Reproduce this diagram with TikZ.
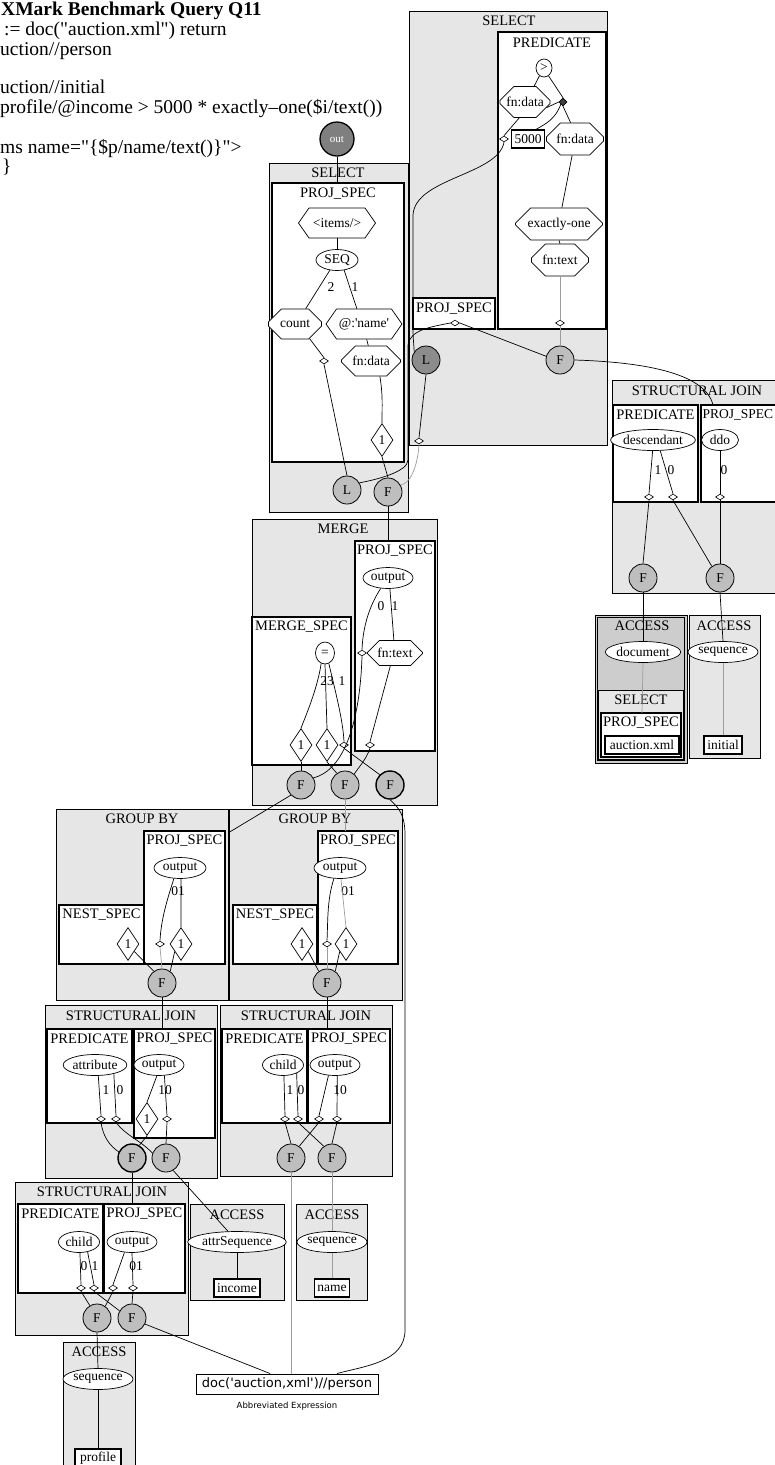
\documentclass[tikz,border=0pt]{standalone}
\usepackage{fontspec}
\setmainfont{Liberation Serif}
\newfontfamily\dvsans{DejaVu Sans}
\usetikzlibrary{shapes.geometric,shapes.misc,shapes.symbols}
\definecolor{clg}{HTML}{E6E6E6}
\definecolor{acg}{HTML}{CDCDCD}
\definecolor{fcol}{HTML}{BEBEBE}
\definecolor{lcol}{HTML}{8C8C8C}
\definecolor{ocol}{HTML}{7F7F7F}
\definecolor{edg}{HTML}{9C9C9C}
\tikzset{
 cl/.style={draw, fill=clg, line width=0.8pt},
 sp/.style={draw, fill=white, line width=1.3pt},
 tl/.style={inner sep=0pt, font=\fontsize{14.5}{16}\selectfont},
 nf/.style={font=\fontsize{13.5}{15}\selectfont},
 ell/.style={ellipse, draw, fill=white, line width=0.7pt, inner sep=0pt, minimum height=21pt, nf},
 oct/.style={chamfered rectangle, draw, fill=white, line width=0.7pt, inner sep=0pt, chamfered rectangle xsep=8pt, chamfered rectangle ysep=9pt, minimum height=30pt, nf},
 hexa/.style={signal, signal to=east and west, signal pointer angle=110, draw, fill=white, line width=0.7pt, inner sep=0pt, minimum height=30pt, nf},
 dia/.style={diamond, draw, fill=white, line width=0.7pt, inner sep=0pt, minimum width=22pt, minimum height=33pt, nf},
 port/.style={diamond, draw, fill=white, line width=0.6pt, inner sep=0pt, minimum width=9pt, minimum height=6pt},
 fc/.style={circle, draw, fill=fcol, line width=0.8pt, minimum size=28pt, inner sep=0pt, nf},
 lc/.style={fc, fill=lcol},
 bx/.style={rectangle, draw, fill=white, line width=1.2pt, inner sep=1.5pt, minimum height=18pt, nf},
 el/.style={inner sep=0pt, font=\fontsize{13.5}{15}\selectfont},
 ed/.style={line width=0.7pt},
 ge/.style={line width=0.7pt, draw=edg},
 hd/.style={anchor=base west, inner sep=0pt, font=\fontsize{19.5}{20}\selectfont},
}
\begin{document}
\begin{tikzpicture}[x=1pt,y=-1pt]
\useasboundingbox (0,0) rectangle (775,1465);
\fill[white] (0,0) rectangle (775,1465);
% ---------- heading text ----------
\node[hd, font=\fontsize{19.5}{20}\selectfont\bfseries] (t1) at (1,15) {XMark Benchmark Query Q11};
\node[hd] (t2) at (4,35) {:= doc(\textquotedbl auction.xml\textquotedbl) return};
\node[hd] (t3) at (0,55) {uction//person};
\node[hd] (t4) at (0,93) {uction//initial};
\node[hd] (t5) at (0,113) {profile/@income > 5000 * exactly--one(\$i/text())};
\node[hd] (t6) at (0,153) {ms name=\textquotedbl\{\$p/name/text()\}\textquotedbl>};
\node[hd] (t7) at (2,172) {\}};
% ---------- clusters ----------
% left SELECT
\draw[cl] (269,163) rectangle (408,512);
\node[tl] (selA) at (338,173) {SELECT};
\draw[sp] (272,183) rectangle (404,462);
\node[tl] (psA) at (338,194) {PROJ\_SPEC};
% right SELECT
\draw[cl] (409,11) rectangle (607,445);
\node[tl] (selB) at (509,21) {SELECT};
\draw[sp] (498,32) rectangle (606,329);
\node[tl] (predB) at (552,43) {PREDICATE};
\draw[sp] (413,298) rectangle (495,329);
\node[tl] (psB) at (454,309) {PROJ\_SPEC};
% right STRUCTURAL JOIN
\draw[cl] (612,380) rectangle (782,593);
\node[tl] (sjR) at (697,391) {STRUCTURAL JOIN};
\draw[sp] (613,405) rectangle (698,502);
\node[tl] (predR) at (655.5,415) {PREDICATE};
\draw[sp] (701,405) rectangle (790,502);
\node[tl, anchor=west, font=\fontsize{13.5}{15}\selectfont] (psR) at (702.5,415) {PROJ\_SPEC};
% ACCESS document
\draw[fill=acg, line width=0.8pt] (595,615) rectangle (687,763);
\draw[line width=0.8pt] (597.5,617.5) rectangle (684.5,760.5);
\node[tl] (acc1) at (642,626) {ACCESS};
\draw[cl] (598,690) rectangle (683,759);
\node[tl] (sel3) at (641,700) {SELECT};
\draw[sp] (601,713) rectangle (681,757);
\node[tl] (ps3) at (641,723) {PROJ\_SPEC};
% ACCESS sequence (initial)
\draw[cl] (689,615) rectangle (760,758);
\node[tl] (acc2) at (724,626) {ACCESS};
% MERGE
\draw[cl] (252,519) rectangle (437,805);
\node[tl] (mrg) at (343,529) {MERGE};
\draw[sp] (355,541) rectangle (435,751);
\node[tl] (psM) at (395,551) {PROJ\_SPEC};
\draw[sp] (252,617) rectangle (351,765);
\node[tl] (msM) at (301.5,627) {MERGE\_SPEC};
% GROUP BY left
\draw[cl] (56,809) rectangle (228,1000);
\node[tl] (gb1) at (142,819) {GROUP BY};
\draw[sp] (144,831) rectangle (225,964);
\node[tl] (psG1) at (184.5,841) {PROJ\_SPEC};
\draw[sp] (59,905) rectangle (144,964);
\node[tl] (nsG1) at (101.5,915) {NEST\_SPEC};
% GROUP BY right
\draw[cl] (229,809) rectangle (402,1000);
\node[tl] (gb2) at (315,819) {GROUP BY};
\draw[sp] (318,831) rectangle (398,964);
\node[tl] (psG2) at (358,841) {PROJ\_SPEC};
\draw[sp] (233,905) rectangle (317,964);
\node[tl] (nsG2) at (275,915) {NEST\_SPEC};
% STRUCTURAL JOIN middle left
\draw[cl] (45,1005) rectangle (217,1178);
\node[tl] (sj1) at (131,1016) {STRUCTURAL JOIN};
\draw[sp] (47,1029) rectangle (132,1123);
\node[tl] (pr1) at (89.5,1039) {PREDICATE};
\draw[sp] (134,1029) rectangle (215,1138);
\node[tl] (ps1) at (174.5,1039) {PROJ\_SPEC};
% STRUCTURAL JOIN middle right
\draw[cl] (220,1005) rectangle (392,1176);
\node[tl] (sj2) at (306,1016) {STRUCTURAL JOIN};
\draw[sp] (222,1029) rectangle (307,1123);
\node[tl] (pr2) at (264.5,1039) {PREDICATE};
\draw[sp] (308,1029) rectangle (390,1123);
\node[tl] (ps2) at (349,1039) {PROJ\_SPEC};
% STRUCTURAL JOIN lower
\draw[cl] (15,1182) rectangle (188,1335);
\node[tl] (sj3) at (102,1192) {STRUCTURAL JOIN};
\draw[sp] (18,1204) rectangle (103,1293);
\node[tl] (pr3) at (60.5,1214) {PREDICATE};
\draw[sp] (104,1204) rectangle (185,1293);
\node[tl] (ps3b) at (144.5,1214) {PROJ\_SPEC};
% ACCESS attrSequence
\draw[cl] (190,1204) rectangle (284,1300);
\node[tl] (acc3) at (237,1215) {ACCESS};
% ACCESS name
\draw[cl] (296,1204) rectangle (367,1300);
\node[tl] (acc4) at (332,1215) {ACCESS};
% ACCESS profile
\draw[cl] (63,1342) rectangle (135,1480);
\node[tl] (acc5) at (99,1352) {ACCESS};
% ---------- nodes ----------
\node[circle, draw, fill=ocol, line width=1.3pt, minimum size=34pt, inner sep=0pt, text=white, font=\fontsize{11}{12}\selectfont] (out) at (337,139) {out};
\coordinate (psAtop) at (337,183);
% left SELECT content
\node[hexa, minimum width=77pt] (items) at (337,223) {<items/>};
\node[ell, minimum width=42pt] (seq) at (337,260) {SEQ};
\node[oct, minimum width=53pt] (count) at (295,324) {count};
\node[hexa, minimum width=76pt] (name) at (364,324) {@:\textquotesingle name\textquotesingle};
\node[oct, minimum width=59pt] (fnd1) at (371,361) {fn:data};
\node[dia] (d1) at (382,440) {1};
\node[port] (p1) at (324,361) {};
\node[fc] (L1) at (347,490) {L};
\node[fc] (F1) at (388,492) {F};
\node[el] (la1) at (331,287) {2};
\node[el] (la2) at (355,287) {1};
% right SELECT content
\node[ell, minimum width=16pt, minimum height=18pt] (gt) at (544,68) {>};
\node[oct, minimum width=50pt, minimum height=31pt] (fdl) at (525,102) {fn:data};
\node[port, fill=black!75, minimum width=8pt, minimum height=8pt] (dot) at (563,102) {};
\node[bx, minimum width=33pt] (k5000) at (528,139) {5000};
\node[port] (p5) at (504,139) {};
\node[oct, minimum width=57pt, minimum height=32pt] (fdr) at (575,139) {fn:data};
\node[oct, minimum width=87pt, minimum height=32pt] (exo) at (559,224) {exactly-one};
\node[oct, minimum width=57pt, minimum height=32pt] (fnt) at (560,260) {fn:text};
\node[port] (p6) at (560,323) {};
\node[port] (p7) at (455,323) {};
\node[fc] (F2) at (560,360) {F};
\node[lc] (L2) at (426,360) {L};
\node[port] (p8) at (419,441) {};
% right SJ content
\node[ell, minimum width=79pt] (desc) at (653,440) {descendant};
\node[ell, minimum width=37pt] (ddo) at (720,440) {ddo};
\node[port] (q1) at (649,497) {};
\node[port] (q2) at (673,497) {};
\node[port] (q3) at (720,497) {};
\node[fc] (F3) at (643,578) {F};
\node[fc] (F4) at (720,578) {F};
\node[el] (lb1) at (658,470) {1};
\node[el] (lb2) at (671,470) {0};
\node[el] (lb3) at (724,470) {0};
\coordinate (sjRin) at (713,405);
% ACCESS document / sequence content
\node[ell, minimum width=72pt] (docel) at (643,652) {document};
\node[bx, minimum width=74pt] (axml) at (642,745) {auction.xml};
\coordinate (ps3t) at (642,713);
\node[ell, minimum width=66pt] (seqel) at (723,652) {sequence};
\node[bx, minimum width=38pt] (initial) at (723,745) {initial};
% MERGE content
\node[ell, minimum width=50pt] (mout) at (388,578) {output};
\node[oct, minimum width=55pt, minimum height=25pt, chamfered rectangle ysep=7pt] (mfnt) at (395,653) {fn:text};
\node[ell, minimum width=19pt, minimum height=22pt] (eq) at (325,653) {=};
\node[dia] (md1) at (301,745) {1};
\node[dia] (md2) at (327,745) {1};
\node[port] (mp1) at (344,745) {};
\node[port] (mp2) at (362,653) {};
\node[port] (mp3) at (370,745) {};
\node[fc] (MF1) at (301,785) {F};
\node[fc] (MF2) at (345,785) {F};
\node[fc, line width=1.4pt] (MF3) at (390,785) {F};
\node[el] (lm1) at (381,606) {0};
\node[el] (lm2) at (395,606) {1};
\node[el] (lm3) at (327,681) {23};
\node[el] (lm4) at (342,681) {1};
\coordinate (psMt) at (388,541);
\coordinate (gb1c) at (228,833);
\coordinate (gb2t) at (345,831);
% GROUP BY left content
\node[ell, minimum width=52pt] (g1out) at (180,868) {output};
\node[dia] (g1d1) at (128,944) {1};
\node[port] (g1p) at (160,944) {};
\node[dia] (g1d2) at (181,944) {1};
\node[fc] (GF1) at (162,983) {F};
\node[el] (lg1) at (178,891) {01};
\coordinate (ps1t) at (162,1029);
% GROUP BY right content
\node[ell, minimum width=52pt] (g2out) at (340,868) {output};
\node[dia] (g2d1) at (302,944) {1};
\node[port] (g2p) at (327,944) {};
\node[dia] (g2d2) at (346,944) {1};
\node[fc] (GF2) at (327,983) {F};
\node[el] (lg2) at (348,891) {01};
\coordinate (ps2t) at (327,1029);
% SJ middle left content
\node[ell, minimum width=57pt] (attr) at (95,1065) {attribute};
\node[ell, minimum width=50pt] (so1out) at (159,1065) {output};
\node[port] (s1p1) at (101,1119) {};
\node[port] (s1p2) at (116,1119) {};
\node[dia] (s1d) at (147,1119) {1};
\node[port] (s1p3) at (167,1119) {};
\node[fc, line width=1.4pt] (SF1) at (132,1158) {F};
\node[fc] (SF2) at (166,1158) {F};
\node[el] (ls1) at (106,1090) {1};
\node[el] (ls2) at (120,1090) {0};
\node[el] (ls3) at (165,1090) {10};
\coordinate (ps3top) at (132,1204);
% SJ middle right content
\node[ell, minimum width=41pt] (child1) at (283,1065) {child};
\node[ell, minimum width=50pt] (s2out) at (335,1065) {output};
\node[port] (s2p1) at (285,1119) {};
\node[port] (s2p2) at (298,1119) {};
\node[port] (s2p3) at (319,1119) {};
\node[port] (s2p4) at (337,1119) {};
\node[fc] (SF3) at (291,1158) {F};
\node[fc] (SF4) at (332,1158) {F};
\node[el] (lr1) at (290,1090) {1};
\node[el] (lr2) at (301,1090) {0};
\node[el] (lr3) at (340,1090) {10};
% SJ lower content
\node[ell, minimum width=41pt] (child2) at (79,1242) {child};
\node[ell, minimum width=50pt] (s3out) at (132,1242) {output};
\node[port] (s3p1) at (81,1288) {};
\node[port] (s3p2) at (94,1288) {};
\node[port] (s3p3) at (113,1288) {};
\node[port] (s3p4) at (133,1288) {};
\node[fc] (SF5) at (97,1318) {F};
\node[fc] (SF6) at (132,1318) {F};
\node[el] (lw1) at (84,1266) {0};
\node[el] (lw2) at (95,1266) {1};
\node[el] (lw3) at (136,1266) {01};
% ACCESS lower content
\node[ell, minimum width=90pt] (aseq) at (237,1242) {attrSequence};
\node[bx, minimum width=46pt] (income) at (237,1288) {income};
\node[ell, minimum width=61pt] (nseq) at (332,1242) {sequence};
\node[bx, minimum width=35pt] (nameb) at (332,1288) {name};
\node[ell, minimum width=66pt] (pseq) at (98,1379) {sequence};
\node[bx, minimum width=46pt] (profile) at (98,1458) {profile};
% abbreviated expression
\node[draw, fill=white, line width=1pt, minimum width=182pt, minimum height=20pt, inner sep=1pt, font=\dvsans\fontsize{13}{14}\selectfont] (doc) at (287,1384) {doc(\textquotesingle auction,xml\textquotesingle)//person};
\node[inner sep=0pt, font=\dvsans\fontsize{8.5}{10}\selectfont] (abbr) at (287,1406) {Abbreviated Expression};
% ---------- edges ----------
% left SELECT
\draw[ed] (out.south) -- (psAtop);
\draw[ed] (items.south) -- (seq.north);
\draw[ed] (seq.235) -- (count.55);
\draw[ed] (seq.305) -- (name.115);
\draw[ed] (name.-80) -- (fnd1.100);
\draw[ed] (count.-45) -- (p1.north);
\draw[ed] (p1.south) -- (L1.north);
\draw[ed] (fnd1.-60) .. controls (383,395) and (382,405) .. (d1.north);
\draw[ed] (d1.south) -- (F1.north);
% right SELECT
\draw[ed] (gt.240) -- (fdl.60);
\draw[ed] (gt.300) -- (dot.north);
\draw[ed] (dot.south) -- (fdr.105);
\draw[ed] (fdl.-15) -- (dot.west);
\draw[ed] (dot.south west) .. controls (555,120) and (545,124) .. (k5000.50);
\draw[ed] (fdl.250) -- (p5.north);
\draw[ed] (p5.south) .. controls (498,175) and (415,178) .. (413,215) -- (413,328) .. controls (413,340) and (414,345) .. (L2.145);
\draw[ed] (L2.south) -- (p8.north);
\draw[ge] (p8.south) .. controls (418,465) and (410,485) .. (F1.30);
\draw[ed] (p7.west) .. controls (430,327) and (410,330) .. (408,345) -- (408,460) .. controls (408,472) and (375,480) .. (L1.30);
\draw[ge] (fnt.south) -- (p6.north);
\draw[ge] (p6.south) -- (F2.north);
\draw[ed] (exo.south) -- (fnt.north);
\draw[ed] (fdr.-100) -- (exo.80);
\draw[ed] (p7.east) -- (F2.165);
\draw[ed] (F2.east) .. controls (640,362) and (705,372) .. (sjRin);
% right SJ
\draw[ed] (desc.268) -- (q1.north);
\draw[ed] (desc.304) -- (q2.north);
\draw[ed] (ddo.south) -- (q3.north);
\draw[ed] (q1.south) -- (F3.north);
\draw[ed] (q2.south) -- (F4.125);
\draw[ed] (q3.south) -- (F4.north);
\draw[ed] (F3.south) -- (docel.north);
\draw[ed] (F4.south) -- (seqel.north);
\draw[ge] (docel.south) -- (ps3t);
\draw[ge] (initial.north) -- (seqel.south);
% MERGE
\draw[ed] (F1.south) -- (psMt);
\draw[ed] (mout.235) .. controls (370,605) and (363,625) .. (mp2.north);
\draw[ed] (mout.-80) -- (mfnt.95);
\draw[ed] (mfnt.-110) -- (mp3.north);
\draw[ed] (eq.250) .. controls (317,690) and (306,715) .. (md1.north);
\draw[ed] (eq.270) -- (md2.north);
\draw[ed] (eq.290) .. controls (335,690) and (343,720) .. (mp1.north);
\draw[ed] (md1.south) -- (MF1.north);
\draw[ed] (md2.south) -- (MF2.125);
\draw[ed] (mp1.south) -- (MF3.135);
\draw[ed] (mp2.south) .. controls (360,720) and (345,770) .. (MF1.30);
\draw[ed] (mp3.south) .. controls (366,760) and (358,768) .. (MF2.50);
\draw[ed] (MF1.225) -- (gb1c);
\draw[ge] (MF2.south) -- (gb2t);
\draw[ed] (MF3.south) .. controls (399,808) and (405,815) .. (405,835) -- (405,1330) .. controls (405,1362) and (365,1366) .. ([xshift=50pt]doc.north);
% GROUP BY left
\draw[ed] (g1out.240) .. controls (167,900) and (161,920) .. (g1p.north);
\draw[ed] (g1out.-85) -- (g1d2.north);
\draw[ge] (g1p.south) -- (GF1.north);
\draw[ed] (g1d1.-50) -- (GF1.125);
\draw[ed] (g1d2.-130) -- (GF1.55);
\draw[ed] (GF1.south) -- (ps1t);
% GROUP BY right
\draw[ed] (g2out.240) .. controls (327,900) and (328,920) .. (g2p.north);
\draw[ge] (g2out.-85) -- (g2d2.north);
\draw[ge] (g2p.south) -- (GF2.north);
\draw[ed] (g2d1.-50) -- (GF2.125);
\draw[ed] (g2d2.-130) -- (GF2.55);
\draw[ed] (GF2.south) -- (ps2t);
% SJ middle left
\draw[ed] (attr.287) -- (s1p1.north);
\draw[ed] (attr.335) -- (s1p2.north);
\draw[ed] (so1out.259) -- (s1d.north);
\draw[ed] (so1out.297) -- (s1p3.north);
\draw[ed] (s1p1.south) .. controls (103,1137) and (110,1146) .. (SF1.155);
\draw[ed] (s1p2.south) .. controls (125,1135) and (140,1140) .. (SF2.160);
\draw[ed] (s1d.south) -- (SF1.60);
\draw[ed] (s1p3.south) -- (SF2.north);
\draw[ed] (SF1.south) -- (ps3top);
\draw[ed] (SF2.-60) -- (aseq.130);
% SJ middle right
\draw[ed] (child1.275) -- (s2p1.north);
\draw[ed] (child1.329) -- (s2p2.north);
\draw[ed] (s2out.238) -- (s2p3.north);
\draw[ed] (s2out.282) -- (s2p4.north);
\draw[ed] (s2p1.south) -- (SF3.north);
\draw[ed] (s2p2.south) -- (SF4.125);
\draw[ed] (s2p3.south) -- (SF3.55);
\draw[ed] (s2p4.south) -- (SF4.north);
\draw[ge] (SF3.south) -- (SF3.south |- doc.north);
\draw[ge] (SF4.south) -- (nseq.north);
% SJ lower
\draw[ed] (child2.275) -- (s3p1.north);
\draw[ed] (child2.311) -- (s3p2.north);
\draw[ed] (s3out.234) -- (s3p3.north);
\draw[ed] (s3out.270) -- (s3p4.north);
\draw[ed] (s3p1.south) -- (SF5.120);
\draw[ed] (s3p2.south) -- (SF6.150);
\draw[ed] (s3p3.south) -- (SF5.55);
\draw[ed] (s3p4.south) -- (SF6.north);
\draw[ed] (SF5.south) -- (pseq.north);
\draw[ed] (SF6.-25) -- ([xshift=-17pt]doc.north);
% ACCESS lower
\draw[ed] (aseq.south) -- (income.north);
\draw[ge] (nameb.north) -- (nseq.south);
\draw[ed] (profile.north) -- (pseq.south);
\end{tikzpicture}
\end{document}
